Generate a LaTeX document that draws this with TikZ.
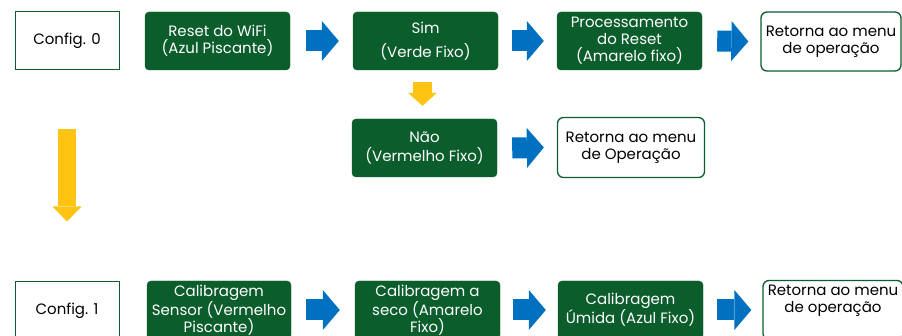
\documentclass[tikz,border=0pt]{standalone}
\usepackage{fontspec}
\setmainfont{Poppins}
\usetikzlibrary{arrows.meta}
\definecolor{verde}{HTML}{0B5D2C}
\definecolor{azul}{HTML}{0070C0}
\definecolor{amarelo}{HTML}{FFC312}
\tikzset{
  txt/.style={font=\fontsize{15}{17}\selectfont, align=center, inner sep=0pt},
  caixa/.style={txt, draw=verde, fill=verde, text=white, rounded corners=4pt, minimum width=145pt, minimum height=58pt},
  config/.style={txt, draw=verde, line width=1pt, fill=white, minimum width=104pt, minimum height=58pt},
  retorna/.style={txt, draw=verde, line width=1.3pt, fill=white, rounded corners=6pt, minimum width=140pt, minimum height=59pt},
  seta/.style={azul, line width=21pt, -{Triangle[length=17pt,width=40pt,line width=0pt]}},
  setaam/.style={amarelo, line width=18pt, -{Triangle[length=15pt,width=29pt,line width=0pt]}}
}
\begin{document}
\begin{tikzpicture}[x=1pt,y=-1pt]
\useasboundingbox (0,0) rectangle (902,336);
% primeira linha
\node[config] (cfg0) at (67,41) {Config. 0};
\node[caixa] (rst) at (217.5,41) {Reset do WiFi\\(Azul Piscante)};
\node[caixa] (sim) at (425.5,41) {Sim\\[7pt](Verde Fixo)};
\node[caixa] (proc) at (629.5,41) {Processamento\\do Reset\\(Amarelo fixo)};
\node[retorna] (ret1) at (831,41.5) {Retorna ao menu\\de operação};
% caso nao
\node[caixa] (nao) at (424.5,148) {Não\\[2pt](Vermelho Fixo)};
\node[retorna, minimum width=147pt, minimum height=60pt] (ret2) at (631,147.5) {Retorna ao menu\\de Operação};
% segunda linha
\node[config] (cfg1) at (67,311) {Config. 1};
\node[caixa, minimum width=144pt] (cal1) at (219,310) {Calibragem\\Sensor (Vermelho\\Piscante)};
\node[caixa] (cal2) at (427.5,310) {Calibragem a\\seco (Amarelo\\Fixo)};
\node[caixa] (cal3) at (630.5,310) {Calibragem\\Úmida (Azul Fixo)};
\node[retorna] (ret3) at (833,310) {Retorna ao menu\\de operação\\[6pt]};
% setas azuis
\draw[seta] ([xshift=16pt]rst.east) -- ([xshift=-14pt]sim.west);
\draw[seta] ([xshift=14pt]sim.east) -- ([xshift=-13pt]proc.west);
\draw[seta] ([xshift=15pt]proc.east) -- ([xshift=-12pt]ret1.west);
\draw[seta] ([xshift=15pt]nao.east) -- ([xshift=-13pt]ret2.west);
\draw[seta] ([xshift=15pt]cal1.east) -- ([xshift=-15pt]cal2.west);
\draw[seta] ([xshift=13pt]cal2.east) -- ([xshift=-12pt]cal3.west);
\draw[seta] ([xshift=14pt]cal3.east) -- ([xshift=-11pt]ret3.west);
% setas amarelas
\draw[setaam] ([yshift=-59pt]cfg0.south) -- ([yshift=60pt]cfg1.north);
\draw[setaam, line width=19pt, -{Triangle[length=13pt,width=29pt,line width=0pt]}] ([xshift=-3pt,yshift=-12pt]sim.south) -- ([xshift=-2pt,yshift=13pt]nao.north);
\end{tikzpicture}
\end{document}
